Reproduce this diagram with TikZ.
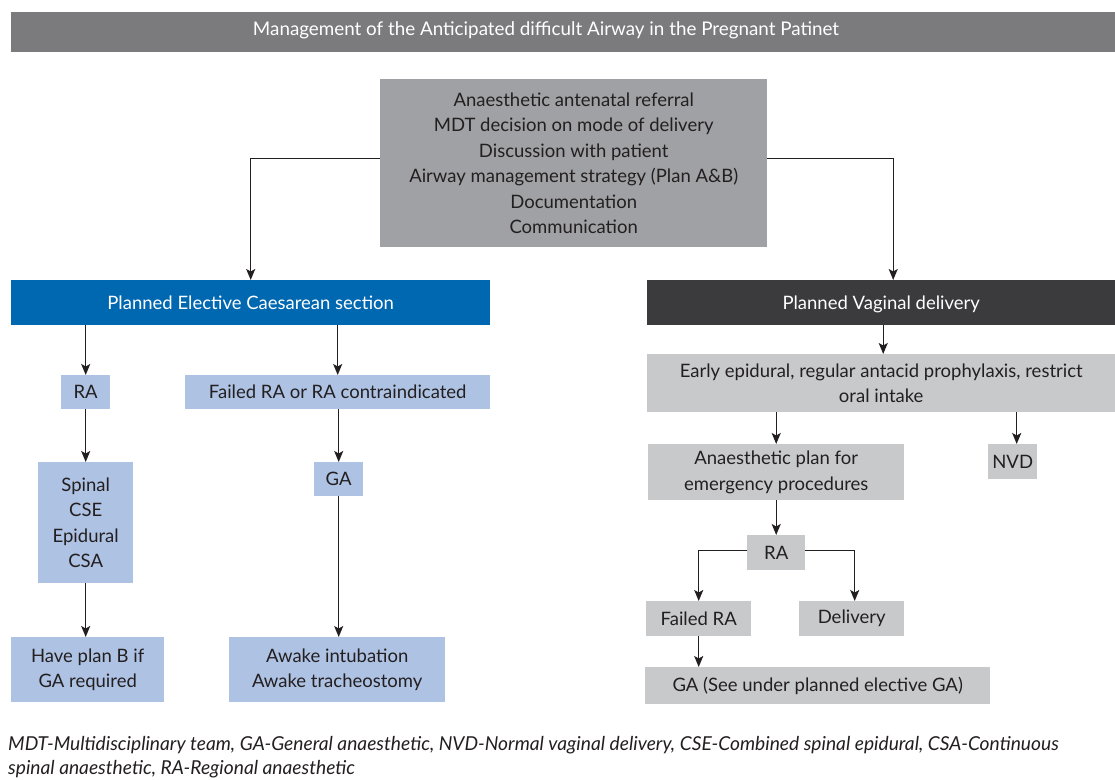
\documentclass[tikz,border=0pt]{standalone}
\usepackage{fontspec}
\setmainfont{Lato}
\usetikzlibrary{positioning,arrows.meta}

\definecolor{barGrey}{HTML}{7B7B7D}
\definecolor{midGrey}{HTML}{A0A1A4}
\definecolor{paleGrey}{HTML}{C8C9CB}
\definecolor{csBlue}{HTML}{0067B1}
\definecolor{darkGrey}{HTML}{3B3A3C}
\definecolor{paleBlue}{HTML}{AEC2E3}
\definecolor{ink}{HTML}{231F20}

\tikzset{
  box/.style={anchor=north west, inner sep=0pt, align=center, text=ink,
    font=\fontsize{18.5}{25.5}\selectfont},
  bluebox/.style={box, fill=paleBlue},
  greybox/.style={box, fill=paleGrey},
  headbox/.style={box, text=white, text height=15pt, text depth=2pt},
  link/.style={draw=ink, line width=1.4pt, -{Stealth[length=11pt,width=9pt,inset=2.5pt]}},
}

\begin{document}
\begin{tikzpicture}[x=1pt, y=-1pt]
	\useasboundingbox (0,0) rectangle (1115,779);
	% heading bar
	\node[box, fill=barGrey, minimum width=1104pt, minimum height=40pt] (title) at (11,12) {};
	\node[text=white, inner sep=0pt, font=\fontsize{18.8}{20}\selectfont] (titletext) at (546,30)
	  {Management of the Anticipated difficult Airway in the Pregnant Patinet};
	% antenatal planning
	\node[box, fill=midGrey, minimum width=387pt, minimum height=168pt] (brief) at (380,79)
	  {Anaesthetic antenatal referral\\MDT decision on mode of delivery\\Discussion with patient\\
	   Airway management strategy (Plan A\&B)\\Documentation\\Communication};
	% the two pathways
	\node[headbox, fill=csBlue, minimum width=479pt, minimum height=45pt] (cs) at (11,280)
	  {Planned Elective Caesarean section};
	\node[headbox, fill=darkGrey, minimum width=468pt, minimum height=45pt] (vd) at (647,280)
	  {Planned Vaginal delivery};
	% caesarean branch
	\node[bluebox, minimum width=49pt, minimum height=34pt] (ra) at (61,375) {RA};
	\node[bluebox, minimum width=305pt, minimum height=34pt] (failed) at (185,375)
	  {Failed RA or RA contraindicated};
	\node[bluebox, minimum width=95pt, minimum height=121pt] (spinal) at (38,462)
	  {Spinal\\CSE\\Epidural\\CSA};
	\node[bluebox, minimum width=49pt, minimum height=34pt] (ga) at (314,462) {GA};
	\node[bluebox, minimum width=153pt, minimum height=65pt] (planb) at (11,637)
	  {Have plan B if\\GA required};
	\node[bluebox, minimum width=216pt, minimum height=65pt] (awake) at (229,637)
	  {Awake intubation\\Awake tracheostomy};
	% vaginal branch
	\node[greybox, minimum width=468pt, minimum height=58pt] (early) at (647,354)
	  {Early epidural, regular antacid prophylaxis, restrict\\oral intake};
	\node[greybox, minimum width=256pt, minimum height=56pt] (plan) at (648,444)
	  {Anaesthetic plan for\\emergency procedures};
	\node[greybox, minimum width=49pt, minimum height=35pt] (nvd) at (988,444) {NVD};
	\node[greybox, minimum width=58pt, minimum height=35pt] (ra2) at (747,535) {RA};
	\node[greybox, minimum width=105pt, minimum height=35pt] (failedra) at (646,601) {Failed RA};
	\node[greybox, minimum width=105pt, minimum height=35pt] (delivery) at (799,601) {Delivery};
	\node[greybox, minimum width=345pt, minimum height=37pt] (gasee) at (645,667)
	  {GA (See under planned elective GA)};
	% abbreviations
	\node[anchor=north west, inner sep=0pt, align=left, text=ink,
	  font=\itshape\fontsize{19.2}{24}\selectfont] (notes) at (8,736)
	  {MDT-Multidisciplinary team, GA-General anaesthetic, NVD-Normal vaginal delivery, CSE-Combined spinal epidural, CSA-Continuous\\
	   spinal anaesthetic, RA-Regional anaesthetic};

	% connectors
	\draw[link] ([yshift=5pt]brief.west) -| (cs.north);
	\draw[link] ([yshift=5pt]brief.east) -| ([xshift=12pt]vd.north);
	\draw[link] (cs.south -| ra.north) -- (ra.north);
	\draw[link] (cs.south -| failed.north) -- (failed.north);
	\draw[link] (ra.south) -- (spinal.north);
	\draw[link] (failed.south -| ga.north) -- (ga.north);
	\draw[link] (spinal.south) -- (spinal.south |- planb.north);
	\draw[link] (ga.south) -- (ga.south |- awake.north);
	\draw[link] ([xshift=2pt]vd.south) -- ([xshift=2pt]early.north);
	\draw[link] (early.south -| plan.north) -- (plan.north);
	\draw[link] ([xshift=4pt]early.south -| nvd.north) -- ([xshift=4pt]nvd.north);
	\draw[link] (plan.south) -- (ra2.north);
	\draw[link] ([yshift=2pt]ra2.west) -| (failedra.north);
	\draw[link] ([yshift=2pt]ra2.east) -| ([xshift=3pt]delivery.north);
	\draw[link] (failedra.south) -- (failedra.south |- gasee.north);
\end{tikzpicture}
\end{document}
